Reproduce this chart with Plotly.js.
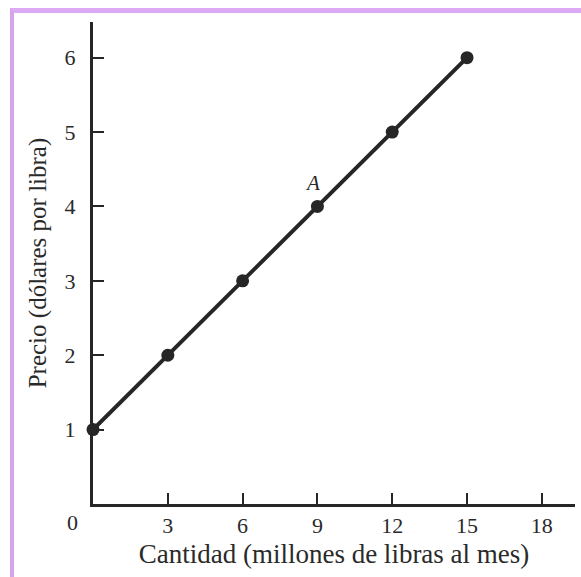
<!DOCTYPE html>
<html>
<head>
<meta charset="utf-8">
<script src="https://cdn.plot.ly/plotly-3.0.1.min.js"></script>
<style>
  html, body { margin: 0; padding: 0; background: #fff; }
  #wrap { position: relative; width: 581px; height: 577px; }
  #chart { position: absolute; left: 0; top: 0; width: 581px; height: 577px; }
  #frame { position: absolute; left: 10px; top: 8px; width: 571px; height: 566px;
           border-left: 4px solid #d6a3ef; border-top: 5px solid #dcaaf2;
           border-bottom: 2px solid #f0dcf8; pointer-events: none; }
</style>
</head>
<body>
<div id="wrap">
  <div id="chart"></div>
  <div id="frame"></div>
</div>
<script>
const cantidad = [0, 3, 6, 9, 12, 15];
const precio = [1, 2, 3, 4, 5, 6];
const xTicks = [3, 6, 9, 12, 15, 18];
const yTicks = [1, 2, 3, 4, 5, 6];
const pointLabel = "A";
const pointLabelAt = [8.8, 4.32];

const ink = '#262626';
const txt = '#2a2a2a';
const serif = '"Liberation Serif", "DejaVu Serif", serif';

const trace = {
  x: cantidad, y: precio, type: 'scatter', mode: 'lines+markers',
  line: { color: ink, width: 4 },
  marker: { color: ink, size: 13 },
  hoverinfo: 'skip', cliponaxis: false
};

const layout = {
  width: 581, height: 577,
  margin: { l: 93, r: 6, t: 22, b: 73 },
  paper_bgcolor: '#ffffff', plot_bgcolor: '#ffffff',
  showlegend: false,
  font: { family: serif, color: txt, size: 20 },
  xaxis: {
    range: [0, 19.33], showgrid: false, zeroline: false,
    showline: true, linecolor: ink, linewidth: 3,
    tickvals: xTicks, ticktext: xTicks.map(String),
    ticks: 'inside', ticklen: 11, tickwidth: 2, tickcolor: ink,
    tickfont: { family: serif, size: 22, color: txt },
    title: { text: 'Cantidad (millones de libras al mes)', font: { family: serif, size: 27, color: txt }, standoff: 7 },
    fixedrange: true
  },
  yaxis: {
    range: [0, 6.48], showgrid: false, zeroline: false,
    showline: true, linecolor: ink, linewidth: 3,
    tickvals: yTicks, ticktext: yTicks.map(String),
    ticks: 'inside', ticklen: 11, tickwidth: 2, tickcolor: ink,
    ticklabelstandoff: 10,
    tickfont: { family: serif, size: 22, color: txt },
    title: { text: 'Precio (dólares por libra)', font: { family: serif, size: 25, color: txt }, standoff: 11 },
    fixedrange: true
  },
  annotations: [
    { x: pointLabelAt[0], y: pointLabelAt[1], xref: 'x', yref: 'y', text: '<i>' + pointLabel + '</i>',
      showarrow: false, font: { family: serif, size: 21, color: txt } },
    { x: 0, y: 0, xref: 'x', yref: 'y', text: '0', showarrow: false,
      xshift: -21, yshift: -18, font: { family: serif, size: 22, color: txt } }
  ]
};

Plotly.newPlot('chart', [trace], layout, { displayModeBar: false, staticPlot: true });
</script>
</body>
</html>
